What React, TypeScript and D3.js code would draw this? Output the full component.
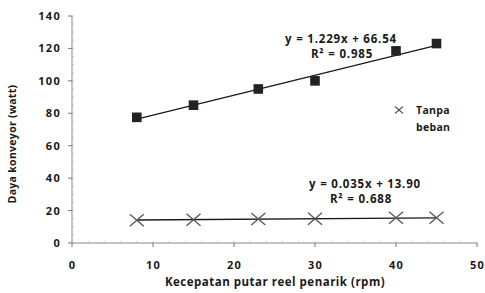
import React from "react";
import * as d3 from "d3";

const speeds = [8, 15, 23, 30, 40, 45];
const loadedPower = [77.5, 85, 95, 100, 118.5, 123];
const unloadedPower = [14, 14.3, 14.8, 14.9, 15.6, 15.5];
const yTicks = [0, 20, 40, 60, 80, 100, 120, 140];
const xTicks = [0, 10, 20, 30, 40, 50];
const loadedFit = { slope: 1.229, intercept: 66.54, label: "y = 1.229x + 66.54", r2: "R² = 0.985" };
const unloadedFit = { slope: 0.035, intercept: 13.9, label: "y = 0.035x + 13.90", r2: "R² = 0.688" };
const legendLines = ["Tanpa", "beban"];

export default function App() {
  const W = 485, H = 293;
  const x = d3.scaleLinear().domain([0, 50]).range([72, 477]);
  const y = d3.scaleLinear().domain([0, 140]).range([243, 16]);
  const font = "'Open Sans', 'DejaVu Sans', sans-serif";
  const ink = "#1a1a1a";
  const xMin = speeds[0], xMax = speeds[speeds.length - 1];
  const line = d3.line<number>().x(d => x(d[0])).y(d => y(d[1]));
  const fitPath = (f: typeof loadedFit) =>
    line([[xMin, f.slope * xMin + f.intercept], [xMax, f.slope * xMax + f.intercept]] as any);
  const minorY = d3.range(0, 141, 5);
  const minorX = d3.range(0, 51, 2);
  const txt = { fontFamily: font, fontWeight: 700, fill: ink } as const;
  return (
    <svg width={W} height={H} style={{ position: "absolute", left: 0, top: 0, background: "#fff" }}>
      {/* axes */}
      <line x1={x(0)} x2={x(0)} y1={y(140)} y2={y(0)} stroke="#888" strokeWidth={1} />
      <line x1={x(0)} x2={x(50)} y1={y(0)} y2={y(0)} stroke="#888" strokeWidth={1} />
      {minorY.map(v => (
        <line key={"my" + v} x1={x(0)} x2={x(0) + 2} y1={y(v)} y2={y(v)} stroke="#aaa" strokeWidth={0.6} />
      ))}
      {minorX.map(v => (
        <line key={"mx" + v} x1={x(v)} x2={x(v)} y1={y(0) - 2} y2={y(0)} stroke="#aaa" strokeWidth={0.6} />
      ))}
      {yTicks.map(v => (
        <g key={"y" + v}>
          <line x1={x(0) - 4} x2={x(0)} y1={y(v)} y2={y(v)} stroke="#777" />
          <text x={x(0) - 11} y={y(v)} dy="0.36em" textAnchor="end" fontSize={11} letterSpacing={1.3} {...txt}>{v}</text>
        </g>
      ))}
      {xTicks.map(v => (
        <g key={"x" + v}>
          <line x1={x(v)} x2={x(v)} y1={y(0)} y2={y(0) + 4} stroke="#777" />
          <text x={x(v) + 0.6} y={y(0) + 26} textAnchor="middle" fontSize={11} letterSpacing={1.3} {...txt}>{v}</text>
        </g>
      ))}
      <text x={275} y={286} textAnchor="middle" fontSize={11.5} letterSpacing={0.5} {...txt}>Kecepatan putar reel penarik (rpm)</text>
      <text transform="translate(16,144) rotate(-90)" textAnchor="middle" fontSize={10.5} letterSpacing={0.3} {...txt}>Daya konveyor (watt)</text>

      {/* fit lines */}
      <path d={fitPath(loadedFit) || ""} stroke={ink} strokeWidth={1.4} fill="none" />
      <path d={fitPath(unloadedFit) || ""} stroke={ink} strokeWidth={1.4} fill="none" />

      {/* markers */}
      {speeds.map((s, i) => (
        <rect key={"sq" + i} x={x(s) - 4.8} y={y(loadedPower[i]) - 4.8} width={9.6} height={9.6} fill="#222" />
      ))}
      {speeds.map((s, i) => {
        const cx = x(s), cy = y(unloadedPower[i]), rx = 7, ry = 6;
        return (
          <g key={"x" + i} stroke="#555" strokeWidth={1.3}>
            <line x1={cx - rx} x2={cx + rx} y1={cy - ry} y2={cy + ry} />
            <line x1={cx - rx} x2={cx + rx} y1={cy + ry} y2={cy - ry} />
          </g>
        );
      })}

      {/* equations */}
      <text x={341} y={43} textAnchor="middle" fontSize={11.5} letterSpacing={0.8} {...txt}>{loadedFit.label}</text>
      <text x={342} y={58} textAnchor="middle" fontSize={11.5} letterSpacing={0.8} {...txt}>{loadedFit.r2}</text>
      <text x={365} y={188} textAnchor="middle" fontSize={11.5} letterSpacing={0.8} {...txt}>{unloadedFit.label}</text>
      <text x={361} y={203} textAnchor="middle" fontSize={11.5} letterSpacing={0.8} {...txt}>{unloadedFit.r2}</text>

      {/* legend */}
      <g stroke="#555" strokeWidth={1.1}>
        <line x1={395} x2={403} y1={106.5} y2={113.5} />
        <line x1={395} x2={403} y1={113.5} y2={106.5} />
      </g>
      {legendLines.map((t, i) => (
        <text key={t} x={416} y={114 + i * 17} fontSize={10.5} letterSpacing={0.3} {...txt}>{t}</text>
      ))}
    </svg>
  );
}
